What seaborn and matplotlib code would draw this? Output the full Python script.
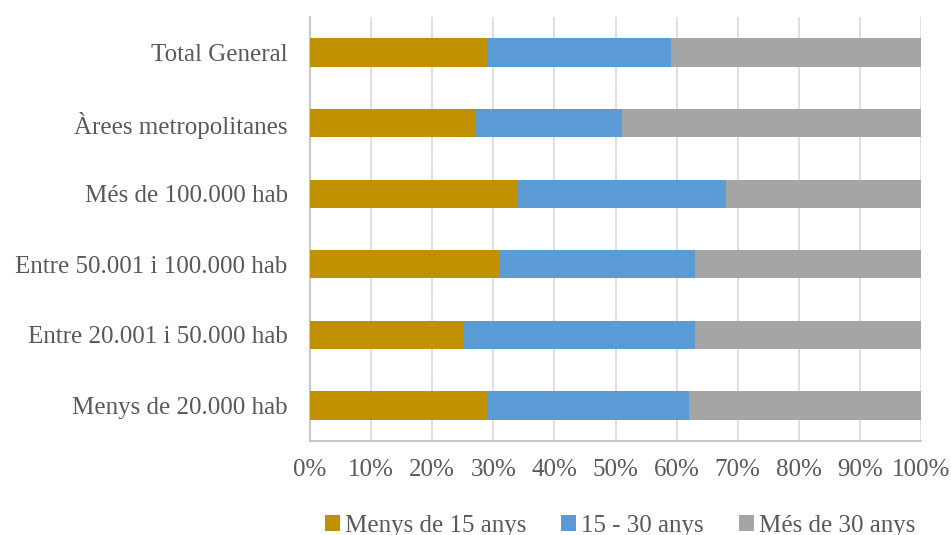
import matplotlib.pyplot as plt
import seaborn as sns
import numpy as np
from matplotlib.patches import Patch

sns.set_theme(style="white")
plt.rcParams['font.family'] = ['Liberation Serif', 'DejaVu Serif']

categories = ['Total General', 'Àrees metropolitanes', 'Més de 100.000 hab',
              'Entre 50.001 i 100.000 hab', 'Entre 20.001 i 50.000 hab', 'Menys de 20.000 hab']
menys_15 = [29, 27, 34, 31, 25, 29]
de_15_30 = [30, 24, 34, 32, 38, 33]
mes_30 = [41, 49, 32, 37, 37, 38]
series_names = ['Menys de 15 anys', '15 - 30 anys', 'Més de 30 anys']
colors = ['#BF9000', '#5B9BD5', '#A5A5A5']
xticks = np.arange(0, 101, 10)

text_col = '#595959'
axis_col = '#BFBFBF'

fig = plt.figure(figsize=(9.51, 5.35), dpi=100)
ax = fig.add_axes([0.326, 0.176, 0.6425, 0.792])

# stacked via cumulative totals, drawn back to front
cum1 = np.array(menys_15)
cum2 = cum1 + np.array(de_15_30)
cum3 = cum2 + np.array(mes_30)
for vals, col in zip([cum3, cum2, cum1], colors[::-1]):
    sns.barplot(x=vals, y=categories, color=col, orient='h', width=0.4, saturation=1,
                edgecolor='none', linewidth=0, ax=ax, zorder=3)

ax.set_xlim(0, 100)
ax.set_ylim(5.5, -0.5)
ax.set_xticks(xticks)
ax.set_xticklabels([f'{t}%' for t in xticks], fontsize=18, color=text_col)
ax.tick_params(axis='x', length=5, color=axis_col, pad=8)
ax.tick_params(axis='y', which='major', length=0, pad=16, labelsize=18, labelcolor=text_col)
ax.set_yticks(np.arange(-0.5, 6, 1), minor=True)
ax.tick_params(axis='y', which='minor', length=6, color=axis_col)
ax.set_xlabel('')
ax.set_ylabel('')

ax.grid(axis='x', color='#D9D9D9', linewidth=1.2, zorder=0)
ax.set_axisbelow(True)
for s in ['top', 'right']:
    ax.spines[s].set_visible(False)
for s in ['left', 'bottom']:
    ax.spines[s].set_color(axis_col)
    ax.spines[s].set_linewidth(1.2)

handles = [Patch(facecolor=c, edgecolor='none') for c in colors]
fig.legend(handles, series_names, loc='lower center', bbox_to_anchor=(0.652, -0.045),
           ncol=3, frameon=False, fontsize=18, labelcolor=text_col,
           handlelength=0.6, handleheight=0.6, handletextpad=0.2, columnspacing=1.4)

fig.savefig('out.png', dpi=100)
